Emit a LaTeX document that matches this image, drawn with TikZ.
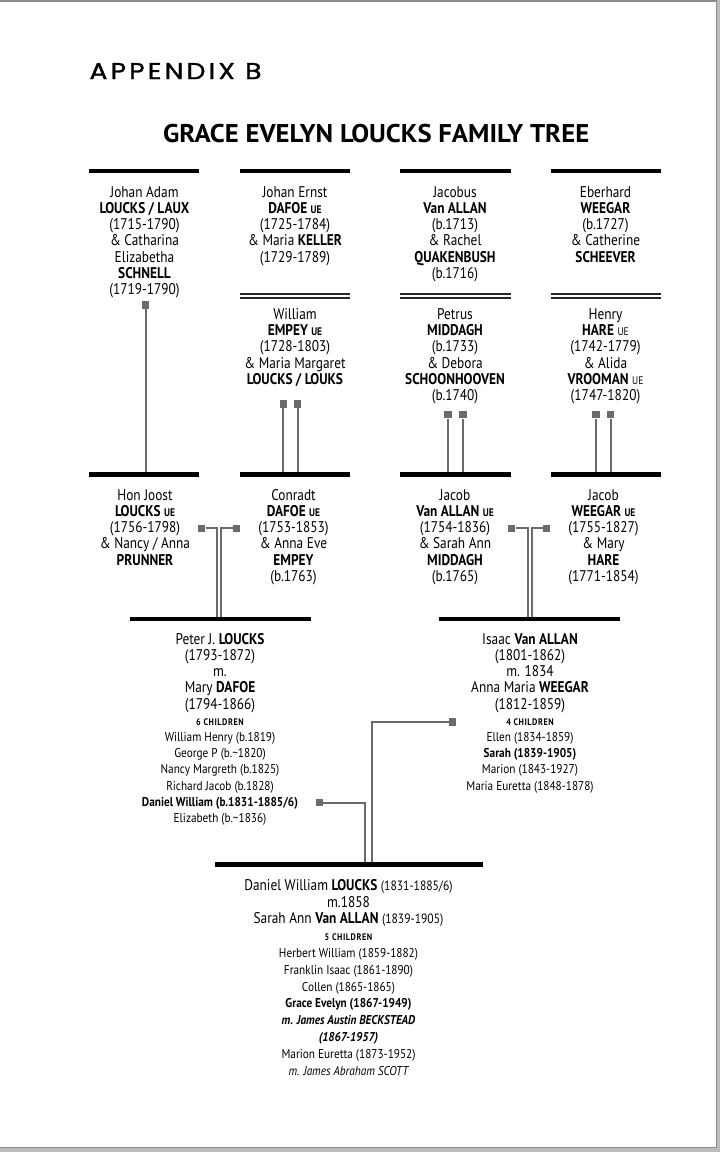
\documentclass[tikz,border=0pt]{standalone}
\usepackage{fontspec}
\setmainfont{PT Sans}[FakeStretch=0.86]
\newfontfamily\chfont{PT Sans}[FakeStretch=0.88]
\newfontfamily\appfont{Poppins}[LetterSpace=12, FakeBold=1.2]
\newfontfamily\headfont{PT Sans}
\definecolor{conngray}{gray}{0.42}
\definecolor{framegray}{gray}{0.55}
\definecolor{shadegray}{gray}{0.74}
\newcommand\fl{\rule{0pt}{12pt}}
\newcommand\UE{{\fontsize{11}{11}\selectfont\bfseries UE}}
\newcommand\ue{{\fontsize{11}{11}\selectfont UE}}
\newcommand\kids[1]{{\fontsize{9.5}{8}\selectfont\bfseries\addfontfeature{LetterSpace=6}#1}}
\newcommand\ch[1]{{\chfont\fontsize{12.8}{12}\selectfont #1}}
\newcommand\dt[1]{{\fontsize{13.5}{13}\selectfont #1}}
\begin{document}
\begin{tikzpicture}[x=1pt,y=-1pt,
  fam/.style={anchor=north, inner sep=0pt, align=center, font=\fontsize{15.5}{16.2}\selectfont},
  famb/.style={fam, font=\fontsize{15.5}{16.8}\selectfont},
  bar/.style={line width=4.5pt, black},
  dbl/.style={line width=1.8pt, black!85},
  conn/.style={line width=2pt, conngray},
  sq/.style={fill=conngray, draw=none, minimum size=7.5pt, inner sep=0pt}]
\useasboundingbox (0,0) rectangle (720,1152);
% page frame
\fill[shadegray] (717.3,0) rectangle (720,1152);
\fill[shadegray] (0,1148.3) rectangle (720,1152);
\draw[framegray, line width=1.5pt] (0,0.75) -- (717.3,0.75);
\draw[framegray, line width=1.4pt] (716.6,0) -- (716.6,1148.3);
\draw[framegray, line width=1.6pt] (0,1147.5) -- (717.3,1147.5);

% titles
\node[anchor=south west, inner sep=0pt] (app) at (89.3,79.3)
  {\resizebox{172pt}{16pt}{\appfont APPENDIX B}};
\node[anchor=south west, inner sep=0pt] (title) at (163,143.4)
  {\resizebox{426pt}{18.3pt}{\headfont\bfseries GRACE EVELYN LOUCKS FAMILY TREE}};

% ---------- coordinates of bars ----------
\foreach \n/\a/\b in {1/89.3/199.3, 2/240/350, 3/400/510.7, 4/550.7/660.7}{
  \coordinate (t\n l) at (\a,171);   \coordinate (t\n r) at (\b,171);
  \coordinate (m\n l) at (\a,474.5); \coordinate (m\n r) at (\b,474.5);
}
\foreach \n/\a/\b in {2/240/350, 3/400/510.7, 4/550.7/660.7}{
  \coordinate (d\n l) at (\a,293.7); \coordinate (d\n r) at (\b,293.7);
  \coordinate (e\n l) at (\a,297.7); \coordinate (e\n r) at (\b,297.7);
}
\coordinate (gLl) at (130,619);   \coordinate (gLr) at (310.7,619);
\coordinate (gRl) at (439.3,619); \coordinate (gRr) at (620,619);
\coordinate (botl) at (215,864.3); \coordinate (botr) at (482.7,864.3);

% ---------- text: generation 1 ----------
\node[fam] (n11) at (144.5,185) {\fl Johan Adam\\ \textbf{LOUCKS / LAUX}\\ (1715-1790)\\ \& Catharina\\ Elizabetha\\ \textbf{SCHNELL}\\ (1719-1790)};
\node[fam] (n12) at (295,185) {\fl Johan Ernst\\ \textbf{DAFOE \UE}\\ (1725-1784)\\ \& Maria \textbf{KELLER}\\ (1729-1789)};
\node[fam] (n13) at (455,185) {\fl Jacobus\\ \textbf{Van ALLAN}\\ (b.1713)\\ \& Rachel\\ \textbf{QUAKENBUSH}\\ (b.1716)};
\node[fam] (n14) at (605.5,185) {\fl Eberhard\\ \textbf{WEEGAR}\\ (b.1727)\\ \& Catherine\\ \textbf{SCHEEVER}};

% ---------- text: second couples ----------
\node[fam] (n22) at (295,307.3) {\fl William\\ \textbf{EMPEY \UE}\\ (1728-1803)\\ \& Maria Margaret\\ \textbf{LOUCKS / LOUKS}};
\node[fam] (n23) at (455,307.3) {\fl Petrus\\ \textbf{MIDDAGH}\\ (b.1733)\\ \& Debora\\ \textbf{SCHOONHOOVEN}\\ (b.1740)};
\node[fam] (n24) at (605.5,307.3) {\fl Henry\\ \textbf{HARE} \ue\\ (1742-1779)\\ \& Alida\\ \textbf{VROOMAN} \ue\\ (1747-1820)};

% ---------- text: generation 2 ----------
\node[fam] (n31) at (145,488) {\fl Hon Joost\\ \textbf{LOUCKS \UE}\\ (1756-1798)\\ \& Nancy / Anna\\ \textbf{PRUNNER}};
\node[fam] (n32) at (293.5,488) {\fl Conradt\\ \textbf{DAFOE \UE}\\ (1753-1853)\\ \& Anna Eve\\ \textbf{EMPEY}\\ (b.1763)};
\node[fam] (n33) at (455,488) {\fl Jacob\\ \textbf{Van ALLAN \UE}\\ (1754-1836)\\ \& Sarah Ann\\ \textbf{MIDDAGH}\\ (b.1765)};
\node[fam] (n34) at (603.5,488) {\fl Jacob\\ \textbf{WEEGAR \UE}\\ (1755-1827)\\ \& Mary\\ \textbf{HARE}\\ (1771-1854)};

% ---------- text: generation 3 ----------
\node[fam] (n41) at (220,632) {\fl Peter J. \textbf{LOUCKS}\\ (1793-1872)\\ m.\\ Mary \textbf{DAFOE}\\ (1794-1866)\\ \kids{6 CHILDREN}\\ \ch{William Henry (b.1819)}\\ \ch{George P (b.\textasciitilde1820)}\\ \ch{Nancy Margreth (b.1825)}\\ \ch{Richard Jacob (b.1828)}\\ \ch{\textbf{Daniel William (b.1831-1885/6)}}\\ \ch{Elizabeth (b.\textasciitilde1836)}};
\node[fam] (n42) at (530,632) {\fl Isaac \textbf{Van ALLAN}\\ (1801-1862)\\ m. 1834\\ Anna Maria \textbf{WEEGAR}\\ (1812-1859)\\ \kids{4 CHILDREN}\\ \ch{Ellen (1834-1859)}\\ \ch{\textbf{Sarah (1839-1905)}}\\ \ch{Marion (1843-1927)}\\ \ch{Maria Euretta (1848-1878)}};

% ---------- text: generation 4 ----------
\node[famb] (n5) at (348.5,878) {\fl Daniel William \textbf{LOUCKS} \dt{(1831-1885/6)}\\ m.1858\\ Sarah Ann \textbf{Van ALLAN} \dt{(1839-1905)}\\ \kids{5 CHILDREN}\\ \ch{Herbert William (1859-1882)}\\ \ch{Franklin Isaac (1861-1890)}\\ \ch{Collen (1865-1865)}\\ \ch{\textbf{Grace Evelyn (1867-1949)}}\\ \ch{\textbf{\itshape m. James Austin BECKSTEAD}}\\ \ch{\textbf{\itshape (1867-1957)}}\\ \ch{Marion Euretta (1873-1952)}\\ \ch{\itshape m. James Abraham SCOTT}};

% ---------- squares ----------
\node[sq] (s1) at (145.5,305) {};
\node[sq] (s2a) at (283.3,404) {};   \node[sq] (s2b) at (297.7,404) {};
\node[sq] (s3a) at (448,414.7) {};   \node[sq] (s3b) at (463,414.7) {};
\node[sq] (s4a) at (596,414.7) {};   \node[sq] (s4b) at (610.7,414.7) {};
\node[sq] (pL1) at (201.7,528.3) {}; \node[sq] (pL2) at (236.7,528.3) {};
\node[sq] (pR1) at (511.7,528.3) {}; \node[sq] (pR2) at (546.7,528.3) {};
\node[sq] (dan) at (319.3,802.7) {};
\node[sq] (sar) at (452.7,722) {};

% turning points
\coordinate (jL1) at (216.7,619); \coordinate (jL2) at (220.7,619);
\coordinate (jR1) at (527.7,619); \coordinate (jR2) at (531.7,619);
\coordinate (jD) at (365.3,864.3); \coordinate (jS) at (371.8,864.3);

% ---------- connectors ----------
\draw[conn] (s1) -- (s1 |- m1l);
\foreach \s in {s2a,s2b,s3a,s3b,s4a,s4b}{ \draw[conn] (\s) -- (\s |- m1l); }
\draw[conn] (pL1) -| (jL1);
\draw[conn] (pL2) -| (jL2);
\draw[conn] (pR1) -| (jR1);
\draw[conn] (pR2) -| (jR2);
\draw[conn] (dan) -| (jD);
\draw[conn] (sar) -| (jS);

% ---------- bars ----------
\foreach \n in {1,2,3,4}{
  \draw[bar] (t\n l) -- (t\n r);
  \draw[bar] (m\n l) -- (m\n r);
}
\foreach \n in {2,3,4}{
  \draw[dbl] (d\n l) -- (d\n r);
  \draw[dbl] (e\n l) -- (e\n r);
}
\draw[bar, line width=4.8pt] (gLl) -- (gLr);
\draw[bar, line width=4.8pt] (gRl) -- (gRr);
\draw[bar, line width=5.5pt] (botl) -- (botr);
\end{tikzpicture}
\end{document}
